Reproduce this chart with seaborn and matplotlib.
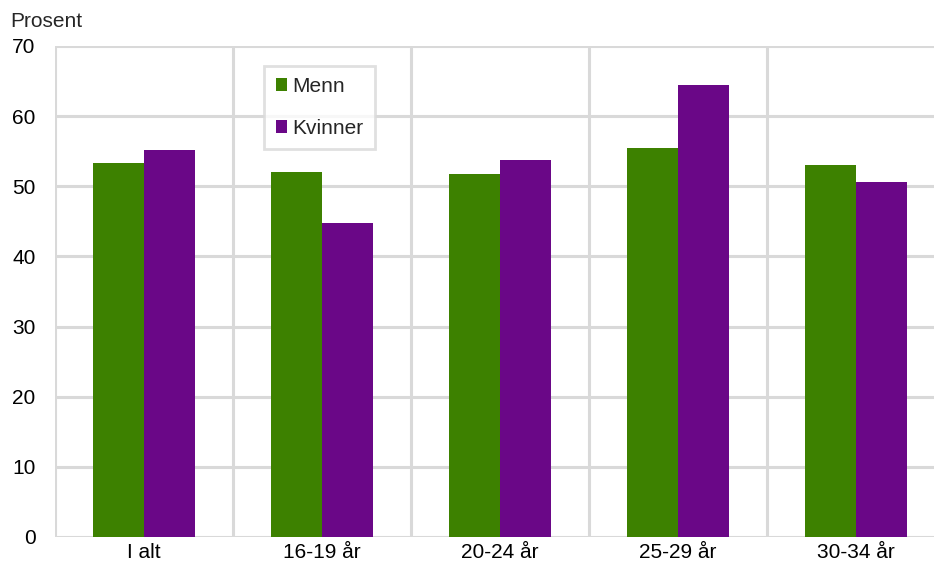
import matplotlib
matplotlib.use("Agg")
import matplotlib.pyplot as plt
import seaborn as sns
import pandas as pd

# ── data ──────────────────────────────────────────────
categories = ["I alt", "16-19 år", "20-24 år", "25-29 år", "30-34 år"]
menn = [53.3, 52.0, 51.8, 55.5, 53.0]
kvinner = [55.2, 44.8, 53.8, 64.4, 50.6]
series_names = ["Menn", "Kvinner"]
colors = ["#3d8100", "#6a0787"]

df = pd.DataFrame({
    "kategori": categories * 2,
    "kjonn": [series_names[0]] * len(categories) + [series_names[1]] * len(categories),
    "verdi": menn + kvinner,
})

sns.set_theme(style="white")
plt.rcParams["font.family"] = ["Liberation Sans", "DejaVu Sans"]

fs = 15
fig = plt.figure(figsize=(9.34, 5.65), dpi=100)
ax = fig.add_axes([0.0589, 0.0496, 0.953, 0.869])

grid_c = "#d9d9d9"
sns.barplot(data=df, x="kategori", y="verdi", hue="kjonn",
            palette=colors, width=0.57, gap=0, ax=ax, zorder=3,
            saturation=1, edgecolor="none")

ax.set_ylim(0, 70)
ax.set_xlim(-0.5, len(categories) - 0.5)
ax.set_yticks(range(0, 71, 10))
ax.yaxis.grid(True, color=grid_c, linewidth=2.2, zorder=0)
for b in range(len(categories)):
    ax.axvline(b - 0.5, color=grid_c, linewidth=2.2, zorder=1)
for s in ax.spines.values():
    s.set_visible(False)
ax.tick_params(axis="both", length=0, labelsize=fs, colors="black")
ax.tick_params(axis="y", pad=14)
ax.tick_params(axis="x", pad=4)
ax.set_xlabel("")
ax.set_ylabel("")

fig.text(0.011, 0.962, "Prosent", fontsize=fs, ha="left", va="center")

leg = ax.legend(loc="upper left", bbox_to_anchor=(0.235, 0.96),
                fontsize=fs, frameon=True, fancybox=False,
                handlelength=0.55, handleheight=0.55, handletextpad=0.25,
                labelspacing=1.1, borderpad=0.55, borderaxespad=0)
leg.get_frame().set_edgecolor(grid_c)
leg.get_frame().set_linewidth(2)
leg.set_zorder(5)

fig.savefig("out.png", dpi=100, facecolor="white")
